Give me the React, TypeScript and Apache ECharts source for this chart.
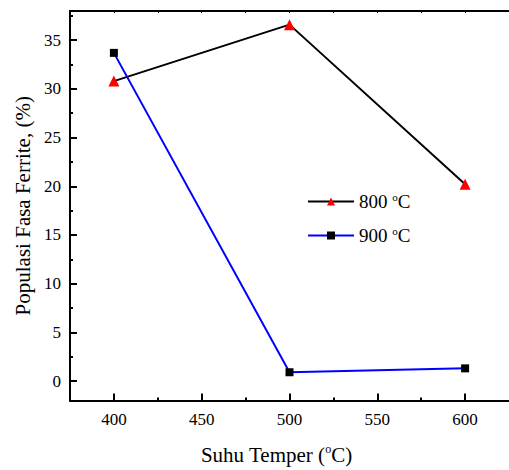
import React, { useEffect, useRef } from "react";
import * as echarts from "echarts";

const temps = [400, 500, 600];
const series800 = [30.8, 36.6, 20.2];
const series900 = [33.7, 0.9, 1.3];
const xMajor = [400, 450, 500, 550, 600];
const xMinor = [425, 475, 525, 575];
const yMajor = [0, 5, 10, 15, 20, 25, 30, 35];
const yMinor = [2.5, 7.5, 12.5, 17.5, 22.5, 27.5, 32.5, 37.5];
const names = ["800 °C", "900 °C"];

const FONT = "Liberation Serif";

export default function App() {
  const ref = useRef<HTMLDivElement>(null);
  useEffect(() => {
    if (!ref.current) return;
    const chart = echarts.init(ref.current, null, { renderer: "svg" });
    const lineStyle = { color: "#000", width: 2 };
    const thin = { color: "#000", width: 1 };
    const xBase = { type: "value", min: 375, max: 625, gridIndex: 0 };
    const yBase = { type: "value", min: -2, max: 38, gridIndex: 0 };
    chart.setOption({
      animation: false,
      backgroundColor: "#fff",
      textStyle: { fontFamily: FONT, color: "#000" },
      grid: { left: 70, top: 11, width: 443, height: 393 },
      legend: {
        orient: "vertical",
        left: 302,
        top: 186,
        itemWidth: 46,
        itemHeight: 10,
        itemGap: 14,
        data: names,
        formatter: (n: string) => n.replace(" °C", "") + " {sup|o}C",
        textStyle: {
          fontFamily: FONT,
          fontSize: 19,
          color: "#000",
          rich: {
            sup: { fontFamily: FONT, fontSize: 11, color: "#000", verticalAlign: "top", padding: [0, 0, 10, 0] },
          },
        },
      },
      xAxis: [
        {
          ...xBase,
          position: "bottom",
          name: "Suhu Temper ({sup|o}C)",
          nameLocation: "middle",
          nameGap: 42,
          nameTextStyle: {
            fontFamily: FONT,
            fontSize: 21,
            color: "#000",
            padding: [0, 26, 0, 0],
            rich: { sup: { fontFamily: FONT, fontSize: 12, color: "#000", padding: [0, 0, 12, 0] } },
          },
          axisLine: { show: true, onZero: false, lineStyle },
          axisTick: { show: true, inside: true, length: 7, lineStyle, customValues: xMajor },
          axisLabel: { show: true, margin: 10, fontFamily: FONT, fontSize: 17, color: "#000", customValues: xMajor },
          splitLine: { show: false },
        },
        {
          ...xBase,
          position: "bottom",
          axisLine: { show: false, onZero: false },
          axisTick: { show: true, inside: true, length: 3, lineStyle, customValues: xMinor },
          axisLabel: { show: false },
          splitLine: { show: false },
        },
        {
          ...xBase,
          position: "top",
          axisLine: { show: true, onZero: false, lineStyle },
          axisTick: { show: true, inside: true, length: 2, lineStyle: thin, customValues: xMajor.concat(xMinor) },
          axisLabel: { show: false },
          splitLine: { show: false },
        },
      ],
      yAxis: [
        {
          ...yBase,
          position: "left",
          name: "Populasi Fasa Ferrite, (%)",
          nameLocation: "middle",
          nameGap: 36,
          nameTextStyle: { fontFamily: FONT, fontSize: 21, color: "#000" },
          axisLine: { show: true, onZero: false, lineStyle },
          axisTick: { show: true, inside: true, length: 7, lineStyle, customValues: yMajor },
          axisLabel: { show: true, margin: 9, fontFamily: FONT, fontSize: 17, color: "#000", customValues: yMajor },
          splitLine: { show: false },
        },
        {
          ...yBase,
          position: "left",
          axisLine: { show: false, onZero: false },
          axisTick: { show: true, inside: true, length: 3, lineStyle, customValues: yMinor },
          axisLabel: { show: false },
          splitLine: { show: false },
        },
      ],
      series: [
        {
          name: names[0],
          type: "line",
          xAxisIndex: 0,
          yAxisIndex: 0,
          data: temps.map((t, i) => [t, series800[i]]),
          symbol: "triangle",
          symbolSize: 11,
          itemStyle: { color: "#ff0000" },
          lineStyle: { color: "#000", width: 2 },
        },
        {
          name: names[1],
          type: "line",
          xAxisIndex: 0,
          yAxisIndex: 0,
          data: temps.map((t, i) => [t, series900[i]]),
          symbol: "rect",
          symbolSize: 8,
          itemStyle: { color: "#000" },
          lineStyle: { color: "#0000ff", width: 2 },
        },
      ],
    });
    return () => chart.dispose();
  }, []);
  return (
    <div
      ref={ref}
      style={{ position: "fixed", left: 0, top: 0, width: 509, height: 470, overflow: "hidden" }}
    />
  );
}
